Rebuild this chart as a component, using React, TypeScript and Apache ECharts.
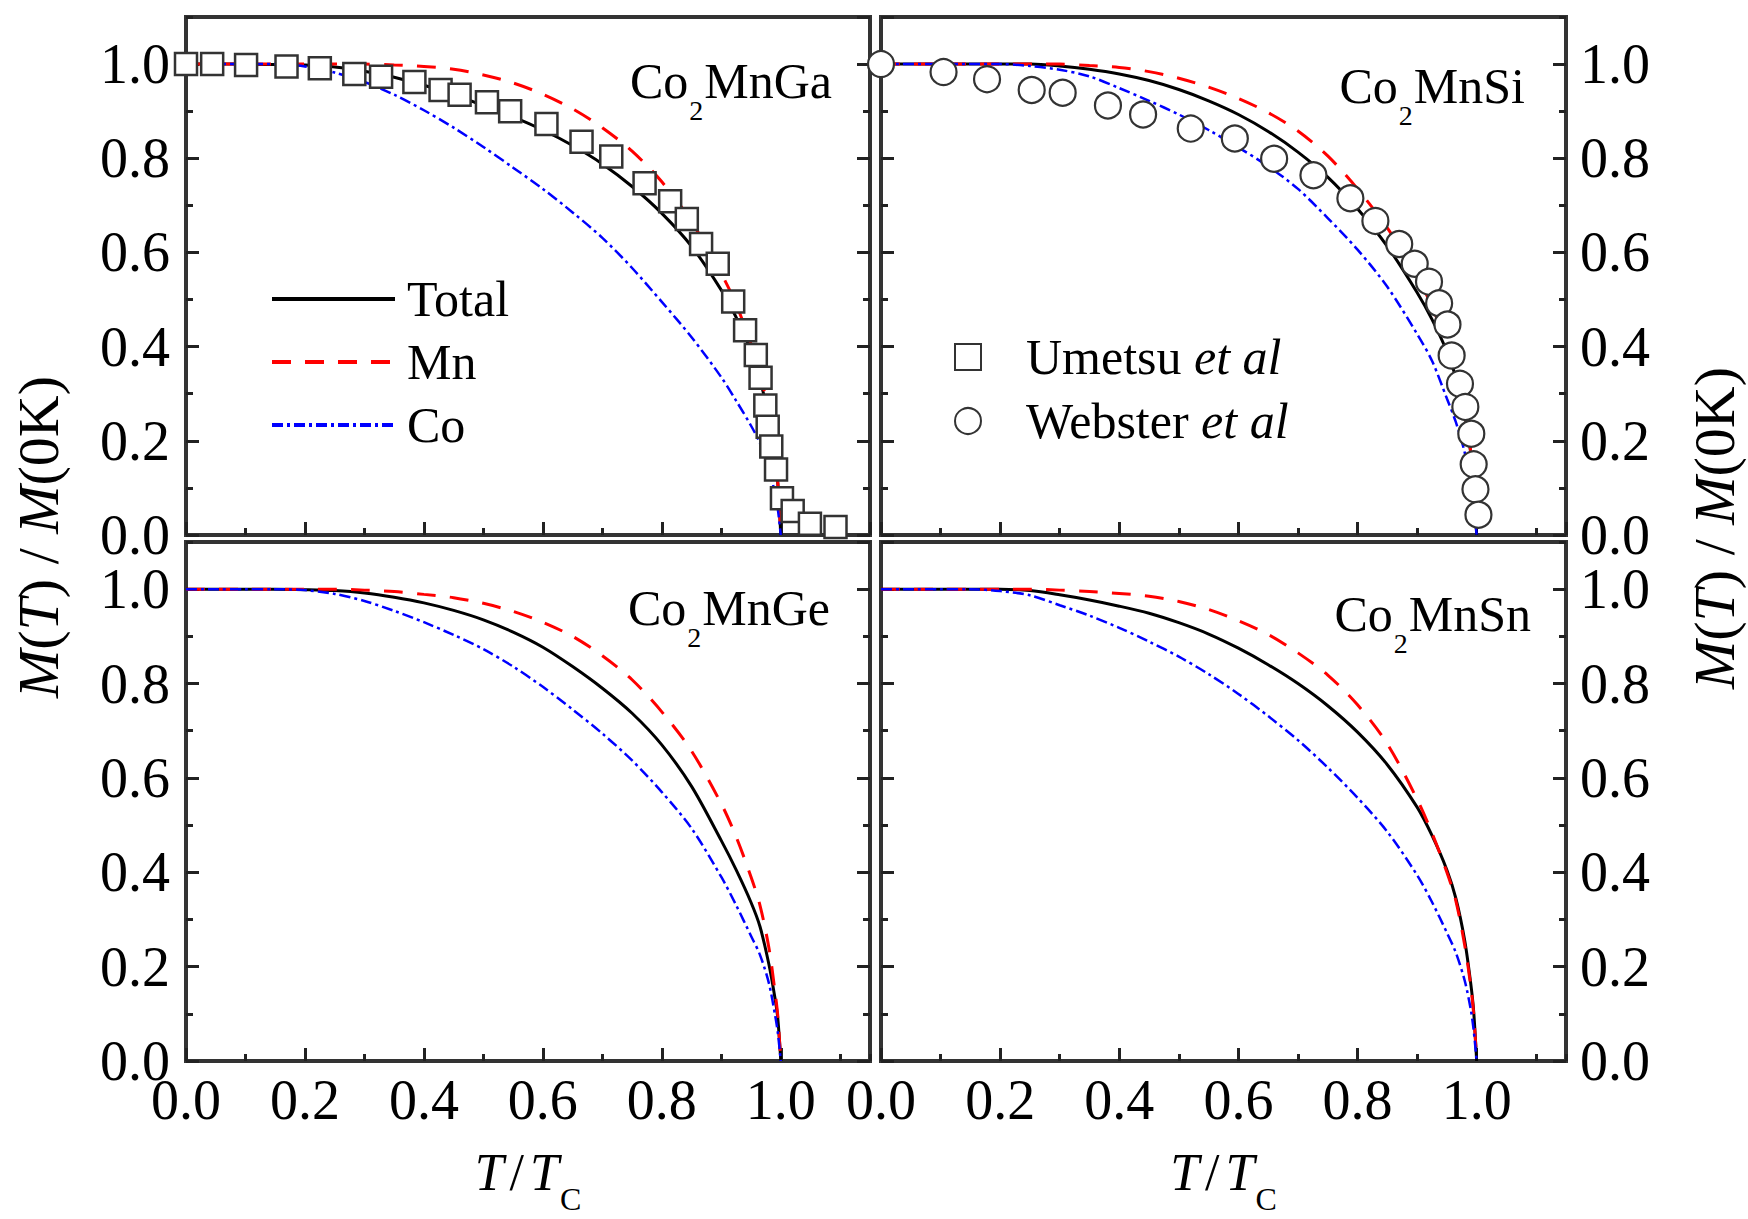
import React, { useEffect, useRef } from "react";
import * as echarts from "echarts";

const FONT = '"Liberation Serif", "Times New Roman", serif';

// ---------- data ----------
const panelCompounds = ["Ga", "Si", "Ge", "Sn"];

const gaTotal: number[][] = [[0, 1], [0.05, 1], [0.1, 1], [0.15, 0.999], [0.2, 0.998], [0.25, 0.994], [0.3, 0.985], [0.35, 0.972], [0.4, 0.955], [0.45, 0.935], [0.5, 0.912], [0.55, 0.888], [0.6, 0.86], [0.65, 0.827], [0.7, 0.788], [0.75, 0.74], [0.8, 0.683], [0.85, 0.613], [0.9, 0.52], [0.925, 0.462], [0.95, 0.39], [0.965, 0.33], [0.98, 0.25], [0.99, 0.17], [0.995, 0.11], [1.0, 0]];
const gaMn: number[][] = [[0, 1], [0.1, 1], [0.2, 1], [0.3, 1], [0.35, 0.998], [0.4, 0.995], [0.45, 0.989], [0.5, 0.977], [0.55, 0.96], [0.6, 0.936], [0.65, 0.905], [0.7, 0.865], [0.75, 0.815], [0.8, 0.75], [0.85, 0.665], [0.9, 0.555], [0.925, 0.49], [0.95, 0.405], [0.965, 0.345], [0.98, 0.255], [0.99, 0.172], [0.995, 0.11], [1.0, 0]];
const gaCo: number[][] = [[0, 1], [0.1, 1], [0.15, 1], [0.2, 0.995], [0.25, 0.982], [0.3, 0.962], [0.35, 0.935], [0.4, 0.902], [0.45, 0.865], [0.5, 0.824], [0.55, 0.78], [0.6, 0.735], [0.65, 0.685], [0.7, 0.631], [0.75, 0.567], [0.8, 0.495], [0.85, 0.42], [0.9, 0.335], [0.925, 0.285], [0.95, 0.232], [0.965, 0.195], [0.98, 0.14], [0.99, 0.09], [0.995, 0.055], [1.0, 0]];

const siTotal: number[][] = [[0, 1], [0.1, 1], [0.2, 1], [0.25, 1], [0.3, 0.996], [0.35, 0.989], [0.4, 0.979], [0.45, 0.965], [0.5, 0.946], [0.55, 0.922], [0.6, 0.893], [0.65, 0.857], [0.7, 0.813], [0.75, 0.76], [0.8, 0.693], [0.85, 0.613], [0.9, 0.515], [0.925, 0.458], [0.95, 0.39], [0.965, 0.335], [0.98, 0.255], [0.99, 0.175], [0.995, 0.11], [1.0, 0]];
const siMn: number[][] = [[0, 1], [0.1, 1], [0.2, 1], [0.3, 1], [0.35, 0.997], [0.4, 0.993], [0.45, 0.984], [0.5, 0.97], [0.55, 0.951], [0.6, 0.927], [0.65, 0.897], [0.7, 0.858], [0.75, 0.805], [0.8, 0.735], [0.85, 0.652], [0.9, 0.55], [0.925, 0.485], [0.95, 0.405], [0.965, 0.345], [0.98, 0.26], [0.99, 0.178], [0.995, 0.112], [1.0, 0]];
const siCo: number[][] = [[0, 1], [0.1, 1], [0.2, 1], [0.25, 0.996], [0.3, 0.988], [0.35, 0.974], [0.4, 0.949], [0.45, 0.922], [0.5, 0.893], [0.55, 0.86], [0.6, 0.823], [0.65, 0.783], [0.7, 0.735], [0.75, 0.673], [0.8, 0.606], [0.85, 0.527], [0.9, 0.427], [0.925, 0.37], [0.95, 0.29], [0.965, 0.24], [0.98, 0.175], [0.99, 0.11], [0.995, 0.065], [1.0, 0]];

const geTotal: number[][] = [[0, 1], [0.05, 1], [0.1, 1], [0.15, 1], [0.2, 0.999], [0.25, 0.997], [0.3, 0.992], [0.35, 0.983], [0.4, 0.971], [0.45, 0.955], [0.5, 0.935], [0.55, 0.909], [0.6, 0.877], [0.65, 0.836], [0.7, 0.79], [0.75, 0.737], [0.8, 0.67], [0.85, 0.582], [0.9, 0.467], [0.925, 0.405], [0.95, 0.336], [0.965, 0.285], [0.98, 0.205], [0.99, 0.135], [0.995, 0.09], [1.0, 0]];
const geMn: number[][] = [[0, 1], [0.1, 1], [0.2, 1], [0.25, 1], [0.3, 0.998], [0.35, 0.995], [0.4, 0.989], [0.45, 0.982], [0.5, 0.97], [0.55, 0.953], [0.6, 0.93], [0.65, 0.9], [0.7, 0.859], [0.75, 0.808], [0.8, 0.74], [0.85, 0.657], [0.9, 0.545], [0.925, 0.475], [0.95, 0.39], [0.965, 0.33], [0.98, 0.24], [0.99, 0.15], [0.995, 0.095], [1.0, 0]];
const geCo: number[][] = [[0, 1], [0.05, 1], [0.1, 1], [0.15, 1], [0.2, 0.998], [0.25, 0.99], [0.3, 0.975], [0.35, 0.954], [0.4, 0.93], [0.45, 0.903], [0.5, 0.873], [0.55, 0.836], [0.6, 0.793], [0.65, 0.745], [0.7, 0.694], [0.75, 0.637], [0.8, 0.57], [0.85, 0.493], [0.9, 0.39], [0.925, 0.33], [0.95, 0.265], [0.965, 0.225], [0.98, 0.165], [0.99, 0.1], [0.995, 0.06], [1.0, 0]];

const snTotal: number[][] = [[0, 1], [0.1, 1], [0.2, 1], [0.25, 0.997], [0.3, 0.988], [0.35, 0.977], [0.4, 0.964], [0.45, 0.949], [0.5, 0.929], [0.55, 0.905], [0.6, 0.875], [0.65, 0.84], [0.7, 0.8], [0.75, 0.753], [0.8, 0.697], [0.85, 0.628], [0.9, 0.538], [0.925, 0.478], [0.95, 0.405], [0.965, 0.345], [0.98, 0.255], [0.99, 0.165], [0.995, 0.105], [1.0, 0]];
const snMn: number[][] = [[0, 1], [0.1, 1], [0.2, 1], [0.25, 1], [0.3, 0.998], [0.35, 0.995], [0.4, 0.991], [0.45, 0.985], [0.5, 0.974], [0.55, 0.957], [0.6, 0.933], [0.65, 0.904], [0.7, 0.865], [0.75, 0.818], [0.8, 0.755], [0.85, 0.672], [0.9, 0.555], [0.925, 0.483], [0.95, 0.4], [0.965, 0.34], [0.98, 0.245], [0.99, 0.16], [0.995, 0.1], [1.0, 0]];
const snCo: number[][] = [[0, 1], [0.05, 1], [0.1, 1], [0.15, 1], [0.2, 0.996], [0.25, 0.987], [0.3, 0.966], [0.35, 0.944], [0.4, 0.918], [0.45, 0.889], [0.5, 0.857], [0.55, 0.82], [0.6, 0.778], [0.65, 0.731], [0.7, 0.68], [0.75, 0.622], [0.8, 0.558], [0.85, 0.486], [0.9, 0.394], [0.925, 0.337], [0.95, 0.272], [0.965, 0.23], [0.98, 0.17], [0.99, 0.11], [0.995, 0.065], [1.0, 0]];

const umetsuGa: number[][] = [[0.0, 1.0], [0.044, 1.0], [0.101, 0.998], [0.169, 0.995], [0.225, 0.991], [0.283, 0.979], [0.328, 0.973], [0.384, 0.962], [0.428, 0.945], [0.46, 0.935], [0.506, 0.919], [0.545, 0.9], [0.606, 0.873], [0.665, 0.835], [0.715, 0.804], [0.771, 0.747], [0.814, 0.709], [0.842, 0.671], [0.866, 0.618], [0.894, 0.576], [0.92, 0.496], [0.94, 0.435], [0.958, 0.382], [0.966, 0.334], [0.974, 0.275], [0.978, 0.23], [0.984, 0.188], [0.992, 0.139], [1.002, 0.078], [1.02, 0.051], [1.049, 0.024], [1.092, 0.017]];
const websterSi: number[][] = [[0.0, 1.0], [0.105, 0.983], [0.178, 0.968], [0.253, 0.945], [0.305, 0.939], [0.381, 0.912], [0.44, 0.893], [0.52, 0.863], [0.594, 0.842], [0.66, 0.799], [0.726, 0.764], [0.788, 0.715], [0.83, 0.667], [0.87, 0.618], [0.896, 0.576], [0.92, 0.538], [0.937, 0.492], [0.951, 0.447], [0.958, 0.381], [0.972, 0.321], [0.981, 0.272], [0.991, 0.215], [0.995, 0.15], [0.998, 0.097], [1.003, 0.043]];

const totals = [gaTotal, siTotal, geTotal, snTotal];
const mns = [gaMn, siMn, geMn, snMn];
const cos = [gaCo, siCo, geCo, snCo];

const lineNames = ["Total", "Mn", "Co"];
const expNames = ["Umetsu et al", "Webster et al"];

// ---------- layout ----------
const gridBoxes = [
  { left: 186, top: 17, width: 684, height: 518 },
  { left: 881, top: 17, width: 685, height: 518 },
  { left: 186, top: 542, width: 684, height: 519 },
  { left: 881, top: 542, width: 685, height: 519 },
];

const labelFont = { fontSize: 56, fontFamily: FONT, color: "#000" };

function buildOption() {
  const grid = gridBoxes.map((g) => ({
    ...g,
    show: true,
    borderColor: "#333",
    borderWidth: 4,
    backgroundColor: "transparent",
    containLabel: false,
    outerBoundsMode: "none",
  }));

  const tickStyle = { color: "#222", width: 3 };
  const xAxis: any[] = [];
  const yAxis: any[] = [];
  for (let g = 0; g < 4; g++) {
    const bottomRow = g >= 2;
    xAxis.push({
      type: "value",
      gridIndex: g,
      min: 0,
      max: 1.15,
      interval: 0.2,
      position: "bottom",
      axisLine: { show: false },
      splitLine: { show: false },
      axisTick: { show: true, inside: true, length: 13, lineStyle: tickStyle },
      axisLabel: {
        show: bottomRow,
        showMaxLabel: false,
        margin: 11,
        ...labelFont,
        formatter: (v: number) => v.toFixed(1),
      },
      name: bottomRow ? "{i|T}{n|/}{i|T}{s|C}" : "",
      nameLocation: "middle",
      nameGap: 68,
      nameTextStyle: {
        color: "#000",
        rich: {
          i: { fontSize: 52, fontStyle: "italic", fontFamily: FONT, color: "#000", verticalAlign: "middle" },
          n: { fontSize: 52, fontFamily: FONT, color: "#000", padding: [0, 6, 0, 6], verticalAlign: "middle" },
          s: { fontSize: 32, fontFamily: FONT, color: "#000", padding: [54, 0, 0, 1], verticalAlign: "middle" },
        },
      },
    });
    xAxis.push({
      type: "value",
      gridIndex: g,
      min: 0,
      max: 1.15,
      interval: 0.1,
      position: "bottom",
      axisLine: { show: false },
      splitLine: { show: false },
      axisTick: { show: true, inside: true, length: 7, lineStyle: tickStyle },
      axisLabel: { show: false },
    });
    const leftCol = g % 2 === 0;
    ["left", "right"].forEach((pos) => {
      const showLab = (pos === "left" && leftCol) || (pos === "right" && !leftCol);
      yAxis.push({
        type: "value",
        gridIndex: g,
        min: 0,
        max: 1.1,
        interval: 0.2,
        position: pos,
        axisLine: { show: false },
        splitLine: { show: false },
        axisTick: { show: true, inside: true, length: 13, lineStyle: tickStyle },
        axisLabel: {
          show: showLab,
          showMaxLabel: false,
          margin: pos === "left" ? 16 : 14,
          ...labelFont,
          formatter: (v: number) => v.toFixed(1),
        },
      });
      yAxis.push({
        type: "value",
        gridIndex: g,
        min: 0,
        max: 1.1,
        interval: 0.1,
        position: pos,
        axisLine: { show: false },
        splitLine: { show: false },
        axisTick: { show: true, inside: true, length: 7, lineStyle: tickStyle },
        axisLabel: { show: false },
      });
    });
  }

  const lineStyles = [
    { color: "#000000", width: 3, type: "solid" },
    { color: "#ff0000", width: 3, type: [19, 14] },
    { color: "#0000ff", width: 2.5, type: [11, 4, 3, 4] },
  ];
  const series: any[] = [];
  for (let g = 0; g < 4; g++) {
    [totals[g], mns[g], cos[g]].forEach((data, k) => {
      series.push({
        type: "line",
        name: lineNames[k],
        xAxisIndex: g * 2,
        yAxisIndex: g * 4,
        data,
        symbol: "none",
        showSymbol: false,
        smooth: 0.3,
        lineStyle: lineStyles[k],
        itemStyle: { color: lineStyles[k].color },
        emphasis: { disabled: true },
        z: 2 + k,
      });
    });
  }
  series.push({
    type: "scatter",
    name: expNames[0],
    xAxisIndex: 0,
    yAxisIndex: 0,
    data: umetsuGa,
    symbol: "rect",
    symbolSize: 22,
    itemStyle: { color: "#ffffff", borderColor: "#333", borderWidth: 2.5, opacity: 1 },
    emphasis: { disabled: true },
    z: 10,
  });
  series.push({
    type: "scatter",
    name: expNames[1],
    xAxisIndex: 2,
    yAxisIndex: 4,
    data: websterSi,
    symbol: "circle",
    symbolSize: 26,
    itemStyle: { color: "#ffffff", borderColor: "#333", borderWidth: 2.2, opacity: 1 },
    emphasis: { disabled: true },
    z: 10,
  });

  const legendText = { fontSize: 50, fontFamily: FONT, color: "#000", lineHeight: 50 };
  const legend = [
    {
      orient: "vertical",
      left: 270,
      top: 274,
      padding: 0,
      itemWidth: 123,
      itemHeight: 14,
      itemGap: 13,
      selectedMode: false,
      data: lineNames.map((n) => ({ name: n, itemStyle: { opacity: 0 } })),
      itemStyle: { opacity: 0 },
      lineStyle: { width: 4 },
      formatter: (n: string) => `{t|${n}}`,
      textStyle: { ...legendText, rich: { t: { ...legendText, padding: [0, 0, 0, 7] } } },
    },
    {
      orient: "vertical",
      left: 954,
      top: 332,
      padding: 0,
      itemWidth: 26,
      itemHeight: 26,
      itemGap: 14,
      selectedMode: false,
      data: expNames,
      formatter: (n: string) => `{n|${n.replace(" et al", "")} }{i|et al}`,
      textStyle: {
        ...legendText,
        rich: {
          n: { ...legendText, padding: [0, 0, 0, 40] },
          i: { ...legendText, fontStyle: "italic" },
        },
      },
    },
  ];

  const annRich = {
    m: { fontSize: 50, fontFamily: FONT, color: "#000", verticalAlign: "middle" },
    s: { fontSize: 28, fontFamily: FONT, color: "#000", padding: [58, 1, 0, 1], verticalAlign: "middle" },
  };
  const annPos = [
    { x: 832, y: 38 },
    { x: 1525, y: 43 },
    { x: 830, y: 565 },
    { x: 1531, y: 571 },
  ];
  const titleRich = {
    i: { fontSize: 58, fontStyle: "italic", fontFamily: FONT, color: "#000", verticalAlign: "middle" },
    n: { fontSize: 58, fontFamily: FONT, color: "#000", verticalAlign: "middle" },
  };
  const yTitle = "{i|M}{n|(}{i|T}{n|) / }{i|M}{n|(0K)}";
  const graphic: any[] = panelCompounds.map((c, i) => ({
    type: "text",
    x: annPos[i].x,
    y: annPos[i].y,
    z: 20,
    style: {
      text: `{m|Co}{s|2}{m|Mn${c}}`,
      rich: annRich,
      align: "right",
      textAlign: "right",
      verticalAlign: "top",
      textVerticalAlign: "top",
    },
  }));
  [
    { x: 38, y: 537 },
    { x: 1714, y: 528 },
  ].forEach((p) =>
    graphic.push({
      type: "text",
      x: p.x,
      y: p.y,
      rotation: Math.PI / 2,
      z: 20,
      style: {
        text: yTitle,
        rich: titleRich,
        align: "center",
        textAlign: "center",
        verticalAlign: "middle",
        textVerticalAlign: "middle",
      },
    })
  );

  return {
    animation: false,
    backgroundColor: "#ffffff",
    grid,
    xAxis,
    yAxis,
    series,
    legend,
    graphic,
  };
}

export default function App() {
  const ref = useRef<HTMLDivElement>(null);
  useEffect(() => {
    if (!ref.current) return;
    const chart = echarts.init(ref.current, undefined, { renderer: "svg" });
    chart.setOption(buildOption() as any);
    return () => chart.dispose();
  }, []);
  return (
    <div
      ref={ref}
      style={{ position: "absolute", left: 0, top: 0, width: 1748, height: 1219, background: "#fff" }}
    />
  );
}
